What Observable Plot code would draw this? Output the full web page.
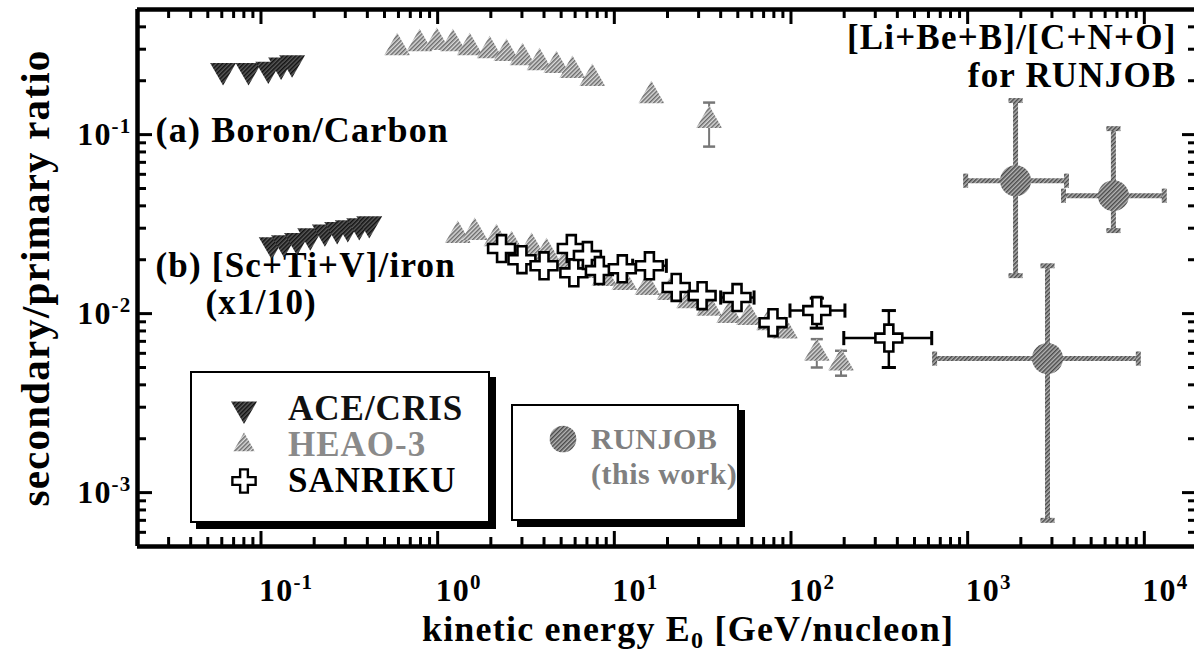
<!DOCTYPE html>
<html><head><meta charset="utf-8">
<script src="https://cdn.jsdelivr.net/npm/d3@7"></script>
<script src="https://cdn.jsdelivr.net/npm/@observablehq/plot@0.6"></script>
<style>
html,body{margin:0;padding:0;background:#fff;overflow:hidden;}
#wrap{position:relative;width:1194px;height:653px;font-family:"Liberation Serif","Times New Roman",serif;font-weight:bold;}
.legend{position:absolute;background:#fff;border:2.5px solid #000;box-shadow:6px 6px 0 #000;box-sizing:border-box;}
.row{position:absolute;white-space:nowrap;font-size:35px;letter-spacing:1px;line-height:28px;height:28px;transform:translateY(-50%);}
.sym{position:absolute;transform:translate(-50%,-50%);overflow:visible;}
</style></head><body><div id="wrap"></div>
<script>
// ---------- data ----------
// (a) Boron/Carbon
const aceBC_E = [0.061, 0.085, 0.11, 0.13, 0.15];
const aceBC_R = [0.228, 0.228, 0.232, 0.245, 0.252];
const heaoBC_E = [0.59, 0.79, 0.99, 1.22, 1.52, 1.97, 2.45, 3.02, 3.77, 4.7, 5.79, 7.5, 16.2, 34.4];
const heaoBC_R = [0.306, 0.322, 0.327, 0.322, 0.306, 0.294, 0.284, 0.269, 0.252, 0.243, 0.228, 0.206, 0.165, 0.12];
const heaoBC_lo = [null, null, null, null, null, null, null, null, null, null, null, null, null, 0.0857];
const heaoBC_hi = [null, null, null, null, null, null, null, null, null, null, null, null, null, 0.151];
// (b) [Sc+Ti+V]/iron (x1/10)
const aceFe_E = [0.115, 0.135, 0.16, 0.19, 0.23, 0.27, 0.31, 0.36, 0.41];
const aceFe_R = [0.0243, 0.0249, 0.0256, 0.0272, 0.0286, 0.0295, 0.0302, 0.031, 0.0318];
const heaoFe_E = [1.30, 1.62, 2.15, 2.62, 3.40, 4.13, 5.36, 6.95, 8.79, 11.4, 15.4, 20.5, 26.5, 34.4, 44.7, 57.9, 75.1, 92.5, 140, 192];
const heaoFe_R = [0.0273, 0.0284, 0.0262, 0.0240, 0.0234, 0.0219, 0.0198, 0.0174, 0.0157, 0.0149, 0.0140, 0.0131, 0.0118, 0.0107, 0.00975, 0.0095, 0.0089, 0.0080, 0.0060, 0.0053];
const heaoFe_lo = [null, null, null, null, null, null, null, null, null, null, null, null, null, null, null, null, null, null, 0.0050, 0.0045];
const heaoFe_hi = [null, null, null, null, null, null, null, null, null, null, null, null, null, null, null, null, null, null, 0.0072, 0.0062];
const sanE = [2.3, 3.0, 4.0, 5.71, 5.9, 7.04, 8.23, 11.1, 15.8, 22.4, 31.4, 49.5, 79.1, 140, 358];
const sanR = [0.0231, 0.0200, 0.0185, 0.0231, 0.0169, 0.0211, 0.0174, 0.0178, 0.0185, 0.0140, 0.0126, 0.0123, 0.0089, 0.0104, 0.0073];
const sanXlo = [null, null, null, null, null, null, null, null, 12.7, null, null, 40, null, 98.7, 199];
const sanXhi = [null, null, null, null, null, null, null, null, 19.7, null, null, 61.8, null, 202, 626];
const sanYlo = [null, null, null, null, null, null, null, null, null, null, null, null, null, 0.0083, 0.0050];
const sanYhi = [null, null, null, null, null, null, null, null, null, null, null, null, null, 0.0122, 0.0104];
// RUNJOB (this work)
const runE = [1867, 6683, 2831];
const runR = [0.0553, 0.0456, 0.00561];
const runXlo = [974, 3487, 650];
const runXhi = [3625, 12970, 9247];
const runYlo = [0.0163, 0.0291, 0.0007];
const runYhi = [0.155, 0.108, 0.0185];
// axes
const xDomain = [0.02, 2e4];
const yDomain = [5e-4, 0.5];
const xLabelTicks = [0.1, 1, 10, 100, 1000, 10000];
const yLabelTicks = [0.001, 0.01, 0.1];
const xTitle = "kinetic energy E_0 [GeV/nucleon]";
const yTitle = "secondary/primary ratio";

// ---------- helpers ----------
const zip = (E, R, extra = {}) => E.map((e, i) => {
  const o = {x: e, y: R[i]};
  for (const k in extra) o[k] = extra[k][i];
  return o;
});
const aceBC = zip(aceBC_E, aceBC_R);
const heaoBC = zip(heaoBC_E, heaoBC_R, {lo: heaoBC_lo, hi: heaoBC_hi});
const aceFe = zip(aceFe_E, aceFe_R);
const heaoFe = zip(heaoFe_E, heaoFe_R, {lo: heaoFe_lo, hi: heaoFe_hi});
const san = zip(sanE, sanR, {xlo: sanXlo, xhi: sanXhi, lo: sanYlo, hi: sanYhi});
const run = zip(runE, runR, {xlo: runXlo, xhi: runXhi, lo: runYlo, hi: runYhi});
const heaoErr = [...heaoBC, ...heaoFe].filter(d => d.lo != null);
const sanYErr = san.filter(d => d.lo != null);
const sanXErr = san.filter(d => d.xlo != null);

const W = 1194, H = 653, X0 = 137, X1 = 1197, YT = 9, YB = 546;
const pxDecX = (X1 - X0) / Math.log10(xDomain[1] / xDomain[0]);
const pxDecY = (YB - YT) / Math.log10(yDomain[1] / yDomain[0]);

const xTicks = [], yTicks = [];
for (let d = -2; d <= 4; d++) for (let k = 1; k <= 9; k++) {
  const v = +(k * Math.pow(10, d)).toPrecision(6);
  if (v > xDomain[0] * 1.01 && v < xDomain[1] * 0.99) xTicks.push({v, len: k === 1 ? 13 : 7});
}
for (let d = -4; d <= -1; d++) for (let k = 1; k <= 9; k++) {
  const v = +(k * Math.pow(10, d)).toPrecision(6);
  if (v > yDomain[0] * 1.01 && v < yDomain[1] * 0.99) yTicks.push({v, len: k === 1 ? 13 : 7});
}

const sqrt3 = Math.sqrt(3);
const triDown = {draw(ctx, size) {
  const y = Math.sqrt(size / (sqrt3 * 3));
  ctx.moveTo(0, y * 2); ctx.lineTo(-sqrt3 * y, -y); ctx.lineTo(sqrt3 * y, -y); ctx.closePath();
}};
const hCap = {draw(ctx, size) { const w = Math.sqrt(size); ctx.moveTo(-w, 0); ctx.lineTo(w, 0); }};
const vCap = {draw(ctx, size) { const w = Math.sqrt(size); ctx.moveTo(0, -w); ctx.lineTo(0, w); }};

const F = "Liberation Serif, Times New Roman, serif";
const txt = {fontFamily: F, fontWeight: "bold", fill: "#000", lineAnchor: "middle"};

const svg = Plot.plot({
  width: W, height: H,
  marginLeft: X0, marginRight: 0, marginTop: YT, marginBottom: H - YB,
  x: {type: "log", domain: xDomain, range: [X0, X1], axis: null},
  y: {type: "log", domain: yDomain, axis: null},
  style: {background: "white", fontFamily: F},
  marks: [
    // ticks (inward)
    Plot.ruleX(xTicks, {x: "v", y1: () => yDomain[0], y2: d => yDomain[0] * Math.pow(10, (d.len + 2) / pxDecY), stroke: "#000", strokeWidth: 3}),
    Plot.ruleX(xTicks, {x: "v", y1: () => yDomain[1], y2: d => yDomain[1] / Math.pow(10, (d.len + 2) / pxDecY), stroke: "#000", strokeWidth: 3}),
    Plot.ruleY(yTicks, {y: "v", x1: () => xDomain[0], x2: d => xDomain[0] * Math.pow(10, (d.len + 2) / pxDecX), stroke: "#000", strokeWidth: 3}),
    Plot.ruleY(yTicks, {y: "v", x1: () => xDomain[1], x2: d => xDomain[1] / Math.pow(10, (d.len + 2) / pxDecX), stroke: "#000", strokeWidth: 3}),
    // frame
    Plot.ruleY(yDomain, {stroke: "#000", strokeWidth: 4.5}),
    Plot.ruleX(xDomain, {stroke: "#000", strokeWidth: 4.5}),
    // tick labels
    Plot.text(xLabelTicks, {x: d => d, frameAnchor: "bottom", dy: 44, dx: -2, textAnchor: "start", text: d => "10^" + Math.round(Math.log10(d)), fontSize: 32, ...txt}),
    Plot.text(yLabelTicks, {y: d => d, frameAnchor: "left", dx: -6, textAnchor: "end", text: d => "10^" + Math.round(Math.log10(d)), fontSize: 32, ...txt}),
    // axis titles
    Plot.text([xTitle], {frameAnchor: "bottom", dx: 22, dy: 83, textAnchor: "middle", text: d => d, fontSize: 36, ...txt}),
    Plot.text([yTitle], {frameAnchor: "left", dx: -102, rotate: -90, textAnchor: "middle", text: d => d, fontSize: 41, ...txt}),
    // annotations
    Plot.text(["(a) Boron/Carbon"], {frameAnchor: "top-left", dx: 18, dy: 121, textAnchor: "start", text: d => d, fontSize: 36, ...txt}),
    Plot.text(["(b) [Sc+Ti+V]/iron"], {frameAnchor: "top-left", dx: 18, dy: 256, textAnchor: "start", text: d => d, fontSize: 35, ...txt}),
    Plot.text(["(x1/10)"], {frameAnchor: "top-left", dx: 68, dy: 293, textAnchor: "start", text: d => d, fontSize: 35, ...txt}),
    Plot.text(["[Li+Be+B]/[C+N+O]"], {frameAnchor: "top-right", dx: -18, dy: 28, textAnchor: "end", text: d => d, fontSize: 35, ...txt}),
    Plot.text(["for RUNJOB"], {frameAnchor: "top-right", dx: -18, dy: 66, textAnchor: "end", text: d => d, fontSize: 35, ...txt}),
    // HEAO-3 error bars
    Plot.ruleX(heaoErr, {x: "x", y1: "lo", y2: "hi", stroke: "#777", strokeWidth: 2}),
    Plot.dot(heaoErr, {x: "x", y: "hi", symbol: hCap, r: 3.4, fill: "none", stroke: "#777", strokeWidth: 2.5}),
    Plot.dot(heaoErr, {x: "x", y: "lo", symbol: hCap, r: 3.4, fill: "none", stroke: "#777", strokeWidth: 2.5}),
    // HEAO-3 triangles
    Plot.dot(heaoBC, {x: "x", y: "y", symbol: "triangle", r: 9.6, fill: "url(#hL)", stroke: "none"}),
    Plot.dot(heaoFe, {x: "x", y: "y", symbol: "triangle", r: 9.6, fill: "url(#hL)", stroke: "none"}),
    // ACE/CRIS triangles
    Plot.dot(aceBC, {x: "x", y: "y", symbol: triDown, r: 9.6, fill: "url(#hD)", stroke: "none"}),
    Plot.dot(aceFe, {x: "x", y: "y", symbol: triDown, r: 9.6, fill: "url(#hD)", stroke: "none"}),
    // SANRIKU error bars
    Plot.ruleY(sanXErr, {y: "y", x1: "xlo", x2: "xhi", stroke: "#000", strokeWidth: 2.5}),
    Plot.dot(sanXErr, {x: "xlo", y: "y", symbol: vCap, r: 4, fill: "none", stroke: "#000", strokeWidth: 3}),
    Plot.dot(sanXErr, {x: "xhi", y: "y", symbol: vCap, r: 4, fill: "none", stroke: "#000", strokeWidth: 3}),
    Plot.ruleX(sanYErr, {x: "x", y1: "lo", y2: "hi", stroke: "#000", strokeWidth: 2.5}),
    Plot.dot(sanYErr, {x: "x", y: "lo", symbol: hCap, r: 4, fill: "none", stroke: "#000", strokeWidth: 3}),
    Plot.dot(sanYErr, {x: "x", y: "hi", symbol: hCap, r: 4, fill: "none", stroke: "#000", strokeWidth: 3}),
    // SANRIKU crosses
    Plot.dot(san, {x: "x", y: "y", symbol: "cross", r: 11.3, fill: "#fff", stroke: "#000", strokeWidth: 2.6}),
    // RUNJOB error bars
    Plot.ruleX(run, {x: "x", y1: "lo", y2: "hi", stroke: "url(#hM)", strokeWidth: 5}),
    Plot.ruleY(run, {y: "y", x1: "xlo", x2: "xhi", stroke: "url(#hM)", strokeWidth: 5}),
    Plot.dot(run, {x: "x", y: "lo", symbol: hCap, r: 4, fill: "none", stroke: "url(#hM)", strokeWidth: 5}),
    Plot.dot(run, {x: "x", y: "hi", symbol: hCap, r: 4, fill: "none", stroke: "url(#hM)", strokeWidth: 5}),
    Plot.dot(run, {x: "xlo", y: "y", symbol: vCap, r: 4, fill: "none", stroke: "url(#hM)", strokeWidth: 5}),
    Plot.dot(run, {x: "xhi", y: "y", symbol: vCap, r: 4, fill: "none", stroke: "url(#hM)", strokeWidth: 5}),
    // RUNJOB circles
    Plot.dot(run, {x: "x", y: "y", r: 15.5, fill: "url(#hM)", stroke: "none"})
  ]
});

// hatch patterns
const defs = d3.select(svg).insert("defs", ":first-child");
function pattern(id, bg, fg, size) {
  const p = defs.append("pattern").attr("id", id).attr("width", size).attr("height", size)
    .attr("patternUnits", "userSpaceOnUse").attr("patternTransform", "rotate(45)");
  p.append("rect").attr("width", size).attr("height", size).attr("fill", bg);
  p.append("rect").attr("width", size / 2).attr("height", size).attr("fill", fg);
}
pattern("hL", "#dcdcdc", "#6a6a6a", 3);
pattern("hD", "#5a5a5a", "#111", 3);
pattern("hM", "#b4b4b4", "#4a4a4a", 3);

// superscripts / subscripts as real text
d3.select(svg).selectAll("text").each(function () {
  const t = this.textContent;
  const m = t.match(/^10\^(-?\d+)$/);
  const s = d3.select(this);
  if (m) {
    this.textContent = "";
    s.append("tspan").text("10");
    s.append("tspan").attr("dy", "-12").attr("font-size", "21").text(m[1]);
  } else if (t.includes("_0")) {
    const [a, b] = t.split("_0");
    this.textContent = "";
    s.append("tspan").text(a);
    s.append("tspan").attr("dy", "7").attr("font-size", "24").text("0");
    s.append("tspan").attr("dy", "-7").text(b);
  }
});
d3.select(svg).selectAll("text").attr("letter-spacing", "1.2");

const wrap = document.getElementById("wrap");
wrap.appendChild(svg);

// ---------- legends ----------
function symSvg(type, size, fill, stroke, sw) {
  const s = d3.create("svg").attr("class", "sym").attr("width", 40).attr("height", 40).attr("viewBox", "-20 -20 40 40");
  s.append("path").attr("d", d3.symbol(type, size)()).attr("fill", fill).attr("stroke", stroke || "none").attr("stroke-width", sw || 0);
  return s.node();
}
const legendItems1 = [
  {label: "ACE/CRIS", color: "#111", sym: () => symSvg(triDown, 292, "url(#hD)")},
  {label: "HEAO-3", color: "#8a8a8a", sym: () => symSvg(d3.symbolTriangle, 200, "url(#hL)")},
  {label: "SANRIKU", color: "#000", sym: () => symSvg(d3.symbolCross, 300, "#fff", "#000", 2.4)}
];
function box(left, top, w, h) {
  const b = document.createElement("div");
  b.className = "legend";
  Object.assign(b.style, {left: left + "px", top: top + "px", width: w + "px", height: h + "px"});
  wrap.appendChild(b);
  return b;
}
function row(b, symX, textX, y, label, color, symNode, size) {
  if (symNode) { symNode.style.left = symX + "px"; symNode.style.top = y + "px"; b.appendChild(symNode); }
  const r = document.createElement("div");
  r.className = "row"; r.textContent = label; r.style.color = color;
  r.style.left = textX + "px"; r.style.top = y + "px";
  if (size) { r.style.fontSize = size + "px"; r.style.letterSpacing = "0.5px"; }
  b.appendChild(r);
}
const b1 = box(190, 371, 300, 152);
legendItems1.forEach((it, i) => row(b1, 52, 96, 36 + i * 36, it.label, it.color, it.sym()));
const b2 = box(511, 404, 228, 117);
row(b2, 50, 78, 33, "RUNJOB", "#808080", symSvg(d3.symbolCircle, 560, "url(#hM)"), 30);
row(b2, 0, 78, 68, "(this work)", "#808080", null, 30);
</script>
</body></html>
